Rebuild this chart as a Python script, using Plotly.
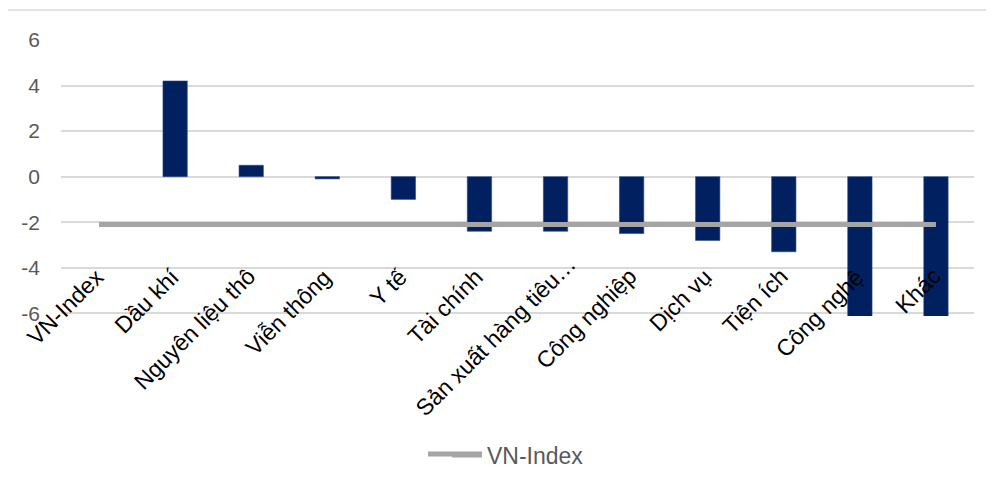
import plotly.graph_objects as go

categories = ["VN-Index", "Dầu khí", "Nguyên liệu thô", "Viễn thông", "Y tế", "Tài chính",
              "Sản xuất hàng tiêu…", "Công nghiệp", "Dịch vụ", "Tiện ích", "Công nghệ", "Khác"]
sector_values = [None, 4.2, 0.5, -0.1, -1.0, -2.4, -2.4, -2.5, -2.8, -3.3, -6.5, -6.5]
vnindex_values = [-2.1] * len(categories)
y_ticks = [-6, -4, -2, 0, 2, 4, 6]

FONT = "Liberation Sans, Arial, sans-serif"

# page body has an 8px default margin; plot area in figure px: x 53..966, y 32..308
L, T, PW, PH = 53, 32, 913, 276

fig = go.Figure()
fig.add_trace(go.Bar(
    x=categories, y=sector_values, name="Ngành",
    marker=dict(color="#002060", line=dict(color="#2E4A86", width=0.6)),
    width=0.32, showlegend=False,
))
fig.add_trace(go.Scatter(
    x=categories, y=vnindex_values, name="VN-Index", mode="lines",
    line=dict(color="#A5A5A5", width=5), showlegend=True,
))

# truncated label sits further along its own direction (as in the original)
extra_shift = {"Sản xuất hàng tiêu…": (16, 13)}

for c in categories:
    dx, dy = extra_shift.get(c, (0, 0))
    fig.add_annotation(
        x=c, y=-4, xref="x", yref="y", text=c, showarrow=False,
        textangle=-45, xanchor="right", yanchor="top",
        xshift=12 + dx, yshift=7 + dy,
        font=dict(family=FONT, size=23, color="#000000"),
    )

# chart-area border (top edge visible)
fig.add_shape(type="rect", xref="paper", yref="paper",
              x0=(-6 - L) / PW, x1=(1010 - L) / PW,
              y0=(T + PH - 520) / PH, y1=(T + PH - 2) / PH,
              line=dict(color="#D9D9D9", width=1.5), fillcolor="rgba(0,0,0,0)", layer="below")

# longer legend key sample, like the original
fig.add_shape(type="line", xref="paper", yref="paper",
              x0=(420 - L) / PW, x1=(474 - L) / PW,
              y0=(T + PH - 446) / PH, y1=(T + PH - 446) / PH,
              line=dict(color="#A5A5A5", width=5))

fig.update_layout(
    width=994, height=486,
    margin=dict(l=L, r=994 - L - PW, t=T, b=486 - T - PH),
    paper_bgcolor="white", plot_bgcolor="white",
    font=dict(family=FONT, size=21, color="#595959"),
    showlegend=True,
    legend=dict(orientation="h", x=(439 - L) / PW, xanchor="left",
                y=(T + PH - 447) / PH, yanchor="middle",
                font=dict(family=FONT, size=23, color="#595959"),
                bgcolor="rgba(0,0,0,0)"),
    xaxis=dict(showticklabels=False, showgrid=False, zeroline=False, showline=False,
               range=[-0.5, len(categories) - 0.5]),
    yaxis=dict(range=[-6.12, 6.0], tickvals=y_ticks, ticktext=[str(v) for v in y_ticks],
               showgrid=True, gridcolor="#D9D9D9", gridwidth=1.5,
               zeroline=True, zerolinecolor="#D9D9D9", zerolinewidth=1.5,
               showline=False, ticks="", ticklabelstandoff=20,
               tickfont=dict(family=FONT, size=21, color="#595959")),
)

fig.write_html("out.html")
